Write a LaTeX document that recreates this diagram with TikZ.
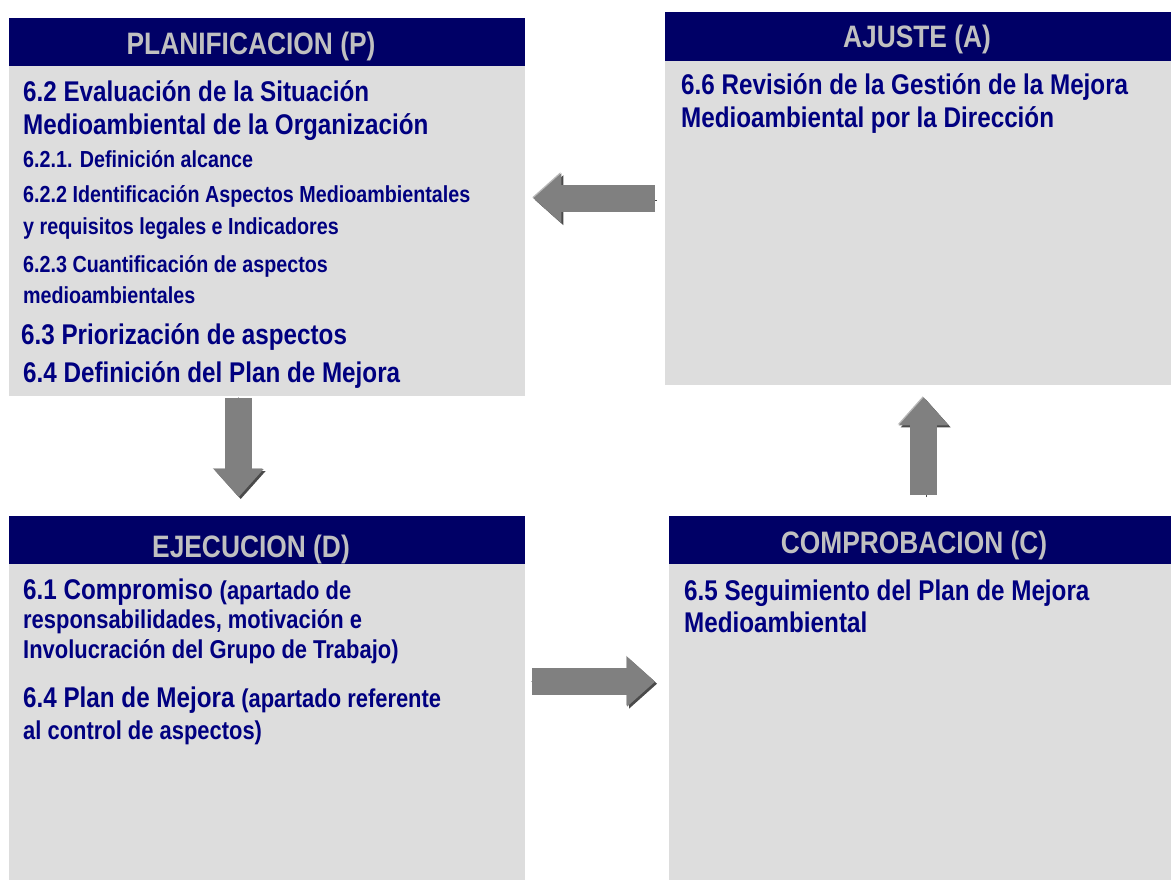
\documentclass[tikz,border=0pt]{standalone}
\usepackage{fontspec}
\setmainfont{Liberation Sans}[FakeStretch=0.85]
\usetikzlibrary{arrows.meta, positioning, calc}
\definecolor{headblue}{HTML}{000066}
\definecolor{titlegray}{HTML}{C0C0C0}
\definecolor{bodygray}{HTML}{DDDDDD}
\definecolor{txtblue}{HTML}{000080}
\definecolor{arrowgray}{HTML}{808080}
\definecolor{arrowdark}{HTML}{4A4A4A}
\definecolor{arrowlight}{HTML}{B8B8B8}
\newcommand{\titlefont}{\fontsize{31}{34}\selectfont\bfseries}
\newcommand{\bigfont}{\fontsize{28.5}{33}\selectfont\bfseries}
\newcommand{\midfont}{\fontsize{25.8}{30}\selectfont\bfseries}
\newcommand{\subfont}{\fontsize{23.2}{30}\selectfont\bfseries}

\begin{document}
\begin{tikzpicture}[x=1pt, y=-1pt,
    % Node styles
    header/.style={rectangle, fill=headblue, anchor=north west, inner sep=0pt, minimum height=48pt},
    body/.style={rectangle, fill=bodygray, anchor=north west, inner sep=0pt},
    title/.style={anchor=base, inner sep=0pt, font=\titlefont, text=titlegray},
    item/.style={anchor=base west, inner sep=0pt, font=\bigfont, text=txtblue},
    subitem/.style={item, font=\subfont},
    blockarrow/.style={line width=27pt, draw=arrowgray, -{Triangle[length=28pt, width=50pt, line width=0pt]},
        preaction={draw=arrowlight, transform canvas={shift={(-1pt,1pt)}}},
        preaction={draw=arrowdark, transform canvas={shift={(2pt,-2pt)}}}},
]
\useasboundingbox (0,0) rectangle (1171,880);

% === PLANIFICACION (P) ===
\node[header, minimum width=516pt] (planhead) at (9,18) {};
\node[body, minimum width=516pt, minimum height=330pt] (planbody) at (9,66) {};
\node[title] (plantitle) at (251,55) {PLANIFICACION (P)};
\node[item] (plan1) at (23,102) {6.2 Evaluación de la Situación};
\node[item] (plan2) at (23,135) {Medioambiental de la Organización};
\node[subitem] (plan3) at (23,168) {6.2.1. Definición alcance};
\node[subitem] (plan4) at (23,203) {6.2.2 Identificación Aspectos Medioambientales};
\node[subitem] (plan5) at (23,234) {y requisitos legales e Indicadores};
\node[subitem] (plan6) at (23,272) {6.2.3 Cuantificación de aspectos};
\node[subitem] (plan7) at (23,303) {medioambientales};
\node[item] (plan8) at (21,344) {6.3 Priorización de aspectos};
\node[item] (plan9) at (23,382) {6.4 Definición del Plan de Mejora};

% === AJUSTE (A) ===
\node[header, minimum width=506pt, minimum height=49pt] (ajhead) at (665,12) {};
\node[body, minimum width=506pt, minimum height=324pt] (ajbody) at (665,61) {};
\node[title] (ajtitle) at (917,48) {AJUSTE (A)};
\node[item] (aj1) at (681,95) {6.6 Revisión de la Gestión de la Mejora};
\node[item] (aj2) at (681,128) {Medioambiental por la Dirección};

% === EJECUCION (D) ===
\node[header, minimum width=516pt] (ejhead) at (9,516) {};
\node[body, minimum width=516pt, minimum height=316pt] (ejbody) at (9,564) {};
\node[title] (ejtitle) at (251,557) {EJECUCION (D)};
\node[item] (ej1) at (23,599) {6.1 Compromiso {\midfont(apartado de}};
\node[item, font=\midfont] (ej2) at (23,628) {responsabilidades, motivación e};
\node[item, font=\midfont] (ej3) at (23,658) {Involucración del Grupo de Trabajo)};
\node[item] (ej4) at (23,707) {6.4 Plan de Mejora {\midfont(apartado referente}};
\node[item, font=\midfont] (ej5) at (23,739) {al control de aspectos)};

% === COMPROBACION (C) ===
\node[header, minimum width=502pt] (cohead) at (669,516) {};
\node[body, minimum width=502pt, minimum height=316pt] (cobody) at (669,564) {};
\node[title] (cotitle) at (914,553) {COMPROBACION (C)};
\node[item] (co1) at (684,600) {6.5 Seguimiento del Plan de Mejora};
\node[item] (co2) at (684,632) {Medioambiental};

% === Cycle arrows ===
\coordinate (leftfrom) at ([yshift=25pt]ajbody.west);
\coordinate (downfrom) at ([xshift=-28.5pt]planbody.south);
\coordinate (rightfrom) at ([yshift=40.5pt]ejbody.east);
\coordinate (upfrom) at ([xshift=3.5pt]cohead.north);
\draw[blockarrow, shorten <=10pt, shorten >=8pt] (leftfrom) -- (leftfrom -| planbody.east);
\draw[blockarrow, shorten <=2pt, shorten >=19pt] (downfrom) -- (downfrom |- ejhead.north);
\draw[blockarrow, shorten <=7pt, shorten >=14pt] (rightfrom) -- (rightfrom -| cobody.west);
\draw[blockarrow, shorten <=21pt, shorten >=12pt] (upfrom) -- (upfrom |- ajbody.south);

\end{tikzpicture}
\end{document}
